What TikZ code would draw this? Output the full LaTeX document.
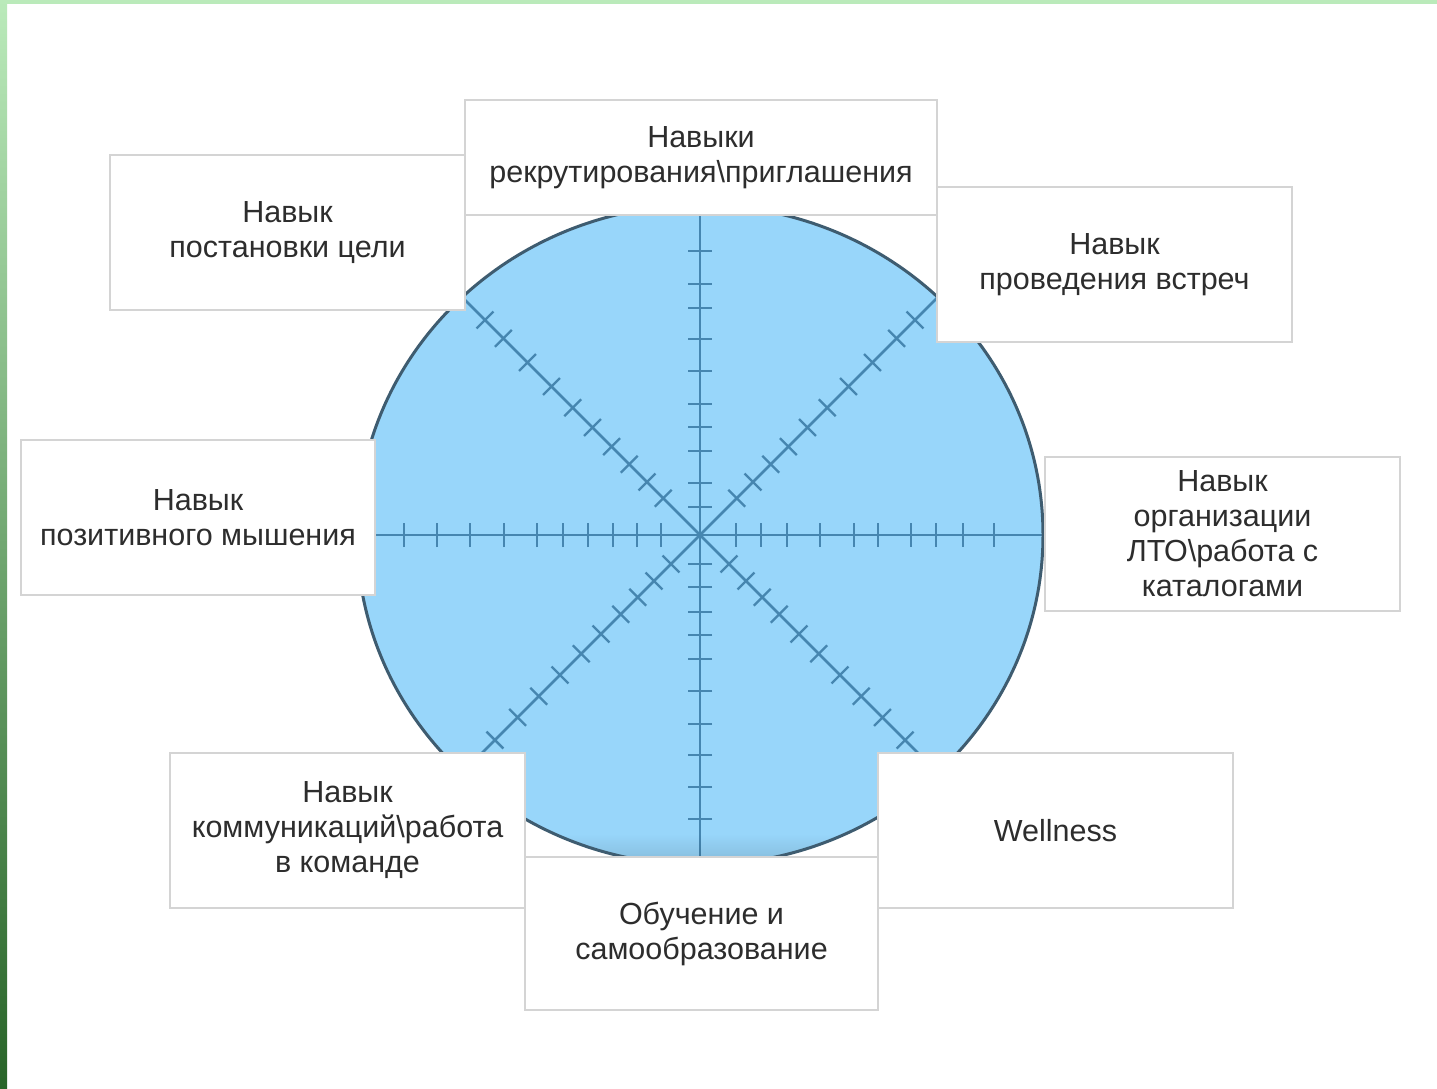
\documentclass[tikz,border=0pt]{standalone}
\usepackage{fontspec}
\setmainfont{Liberation Sans}
\usetikzlibrary{fadings}
\definecolor{disc}{RGB}{152,214,250}
\definecolor{rim}{RGB}{62,92,112}
\definecolor{spoke}{RGB}{70,134,176}
\definecolor{boxline}{RGB}{212,212,212}
\definecolor{txt}{RGB}{45,45,45}
\definecolor{gtop}{RGB}{186,234,186}
\definecolor{gmid}{RGB}{84,178,84}
\definecolor{gbot}{RGB}{40,100,40}
\begin{document}
\begin{tikzpicture}[x=1pt,y=-1pt,
  skill/.style={draw=boxline, line width=2pt, fill=white, align=center, text=txt,
    font=\fontsize{30.5}{35}\selectfont, inner sep=0pt},
  spokeline/.style={draw=spoke, line width=2.6pt},
  tickmark/.style={draw=spoke, line width=2.3pt}]
\useasboundingbox (0,0) rectangle (1437,1089);
\fill[white] (0,0) rectangle (1437,1089);
% green frame
\shade[top color=gtop, middle color=gmid, bottom color=gbot] (0,0) rectangle (7,1089);
\fill[gtop] (0,0) rectangle (1437,4.5);
% disc
\fill[disc] (700,535) ellipse [x radius=343pt, y radius=330pt];
\begin{scope}
  \clip (700,535) ellipse [x radius=343pt, y radius=330pt];
  \foreach \a in {0,45,...,315} \draw[spokeline] (700,535) -- ++(\a:420);
  \foreach \a/\ds in {
      0/{36,61,87,120,154,178,211,236,263,294},
      90/{28,52,84,108,131,164,196,227,251,284},
      180/{39,63,87,112,137,163,196,230,263,296},
      270/{29,52,77,100,124,156,189,220,252,284},
      45/{52,75,100,125,152,180,210,244,278,304},
      135/{52,75,100,125,152,180,210,244,278,304},
      225/{41,65,88,112,140,168,198,228,258,290},
      315/{41,65,88,112,140,168,198,228,258,290}} {
    \begin{scope}[shift={(700,535)}, rotate=\a]
      \foreach \d in \ds \draw[tickmark] (\d,-12) -- (\d,12);
    \end{scope}
  }
  \fill[black, fill opacity=0.10, path fading=north] (520,834) rectangle (885,858);
\end{scope}
\draw[rim, line width=3pt] (700,535) ellipse [x radius=343pt, y radius=330pt];
% boxes
\node[skill, minimum width=355pt, minimum height=155pt] (goal) at (287.5,232.5) {Навык\\постановки цели};
\node[skill, minimum width=472pt, minimum height=115pt] (recr) at (701,157.5) {Навыки\\рекрутирования\textbackslash приглашения};
\node[skill, minimum width=355pt, minimum height=155pt] (meet) at (1114.5,264.5) {Навык\\проведения встреч};
\node[skill, minimum width=354pt, minimum height=155pt] (posi) at (198,517.5) {Навык\\позитивного мышения};
\node[skill, minimum width=355pt, minimum height=154pt] (orga) at (1222.5,534) {Навык\\организации\\ЛТО\textbackslash работа с\\каталогами};
\node[skill, minimum width=355pt, minimum height=155pt] (comm) at (347.5,830.5) {Навык\\коммуникаций\textbackslash работа\\в команде};
\node[skill, minimum width=355pt, minimum height=155pt] (well) at (1055.5,830.5) {Wellness};
\node[skill, minimum width=353pt, minimum height=153pt] (educ) at (701.5,933.5) {Обучение и\\самообразование};
\end{tikzpicture}
\end{document}
